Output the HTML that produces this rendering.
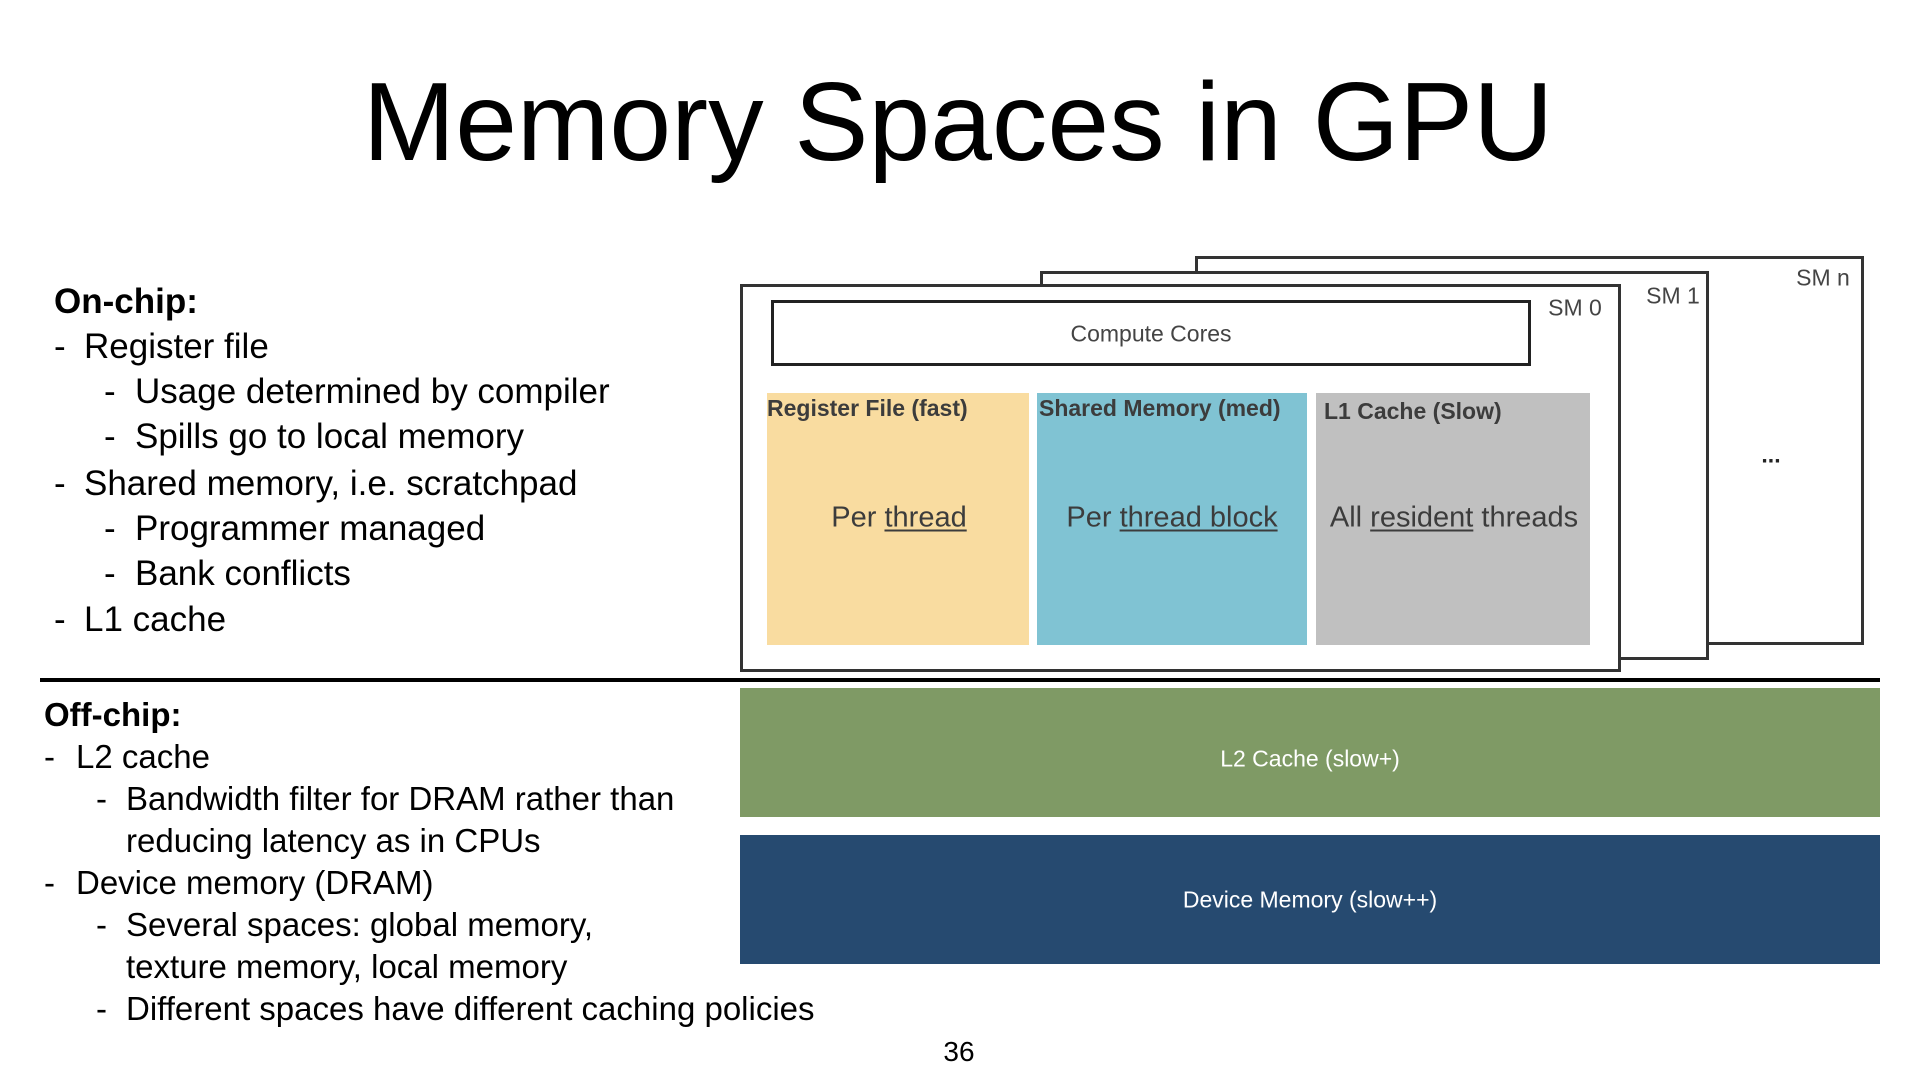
<!DOCTYPE html>
<html><head><meta charset="utf-8"><style>
html,body{margin:0;padding:0;background:#fff;}
body{width:1920px;height:1080px;position:relative;overflow:hidden;font-family:"Liberation Sans",Arial,sans-serif;}
.a{position:absolute;white-space:nowrap;}
.t{position:absolute;white-space:nowrap;transform:translateY(-50%);}
.box{position:absolute;box-sizing:border-box;}
.c{position:absolute;transform:translate(-50%,-50%);white-space:nowrap;}
u{text-decoration-thickness:2px;text-underline-offset:3px;}
</style></head><body>
<div class="c" style="left:958px;top:122px;font-size:111px;color:#000;">Memory Spaces in GPU</div>

<!-- on-chip text -->
<div style="font-size:35px;color:#000;">
<div class="t" style="left:54px;top:302px;font-weight:bold;">On-chip:</div>
<div class="t" style="left:54px;top:347px;">-</div><div class="t" style="left:84px;top:347px;">Register file</div>
<div class="t" style="left:104px;top:392px;">-</div><div class="t" style="left:135px;top:392px;">Usage determined by compiler</div>
<div class="t" style="left:104px;top:437px;">-</div><div class="t" style="left:135px;top:437px;">Spills go to local memory</div>
<div class="t" style="left:54px;top:484px;">-</div><div class="t" style="left:84px;top:484px;">Shared memory, i.e. scratchpad</div>
<div class="t" style="left:104px;top:529px;">-</div><div class="t" style="left:135px;top:529px;">Programmer managed</div>
<div class="t" style="left:104px;top:574px;">-</div><div class="t" style="left:135px;top:574px;">Bank conflicts</div>
<div class="t" style="left:54px;top:620px;">-</div><div class="t" style="left:84px;top:620px;">L1 cache</div>
</div>

<div class="box" style="left:40px;top:678px;width:1840px;height:4px;background:#000;"></div>

<!-- off-chip text -->
<div style="font-size:33px;color:#000;">
<div class="t" style="left:44px;top:715px;font-weight:bold;">Off-chip:</div>
<div class="t" style="left:44px;top:757px;">-</div><div class="t" style="left:76px;top:757px;">L2 cache</div>
<div class="t" style="left:96px;top:799px;">-</div><div class="t" style="left:126px;top:799px;">Bandwidth filter for DRAM rather than</div>
<div class="t" style="left:126px;top:841px;">reducing latency as in CPUs</div>
<div class="t" style="left:44px;top:883px;">-</div><div class="t" style="left:76px;top:883px;">Device memory (DRAM)</div>
<div class="t" style="left:96px;top:925px;">-</div><div class="t" style="left:126px;top:925px;">Several spaces: global memory,</div>
<div class="t" style="left:126px;top:967px;">texture memory, local memory</div>
<div class="t" style="left:96px;top:1009px;">-</div><div class="t" style="left:126px;top:1009px;">Different spaces have different caching policies</div>
</div>

<!-- SM boxes -->
<div class="box" style="left:1195px;top:256px;width:669px;height:389px;border:3px solid #333;background:#fff;"></div>
<div class="c" style="left:1823px;top:278px;font-size:23px;color:#444;">SM n</div>
<div class="c" style="left:1771px;top:455px;font-size:23px;color:#222;font-weight:bold;">...</div>
<div class="box" style="left:1040px;top:271px;width:669px;height:389px;border:3px solid #333;background:#fff;"></div>
<div class="c" style="left:1673px;top:296px;font-size:23px;color:#444;">SM 1</div>
<div class="box" style="left:740px;top:284px;width:881px;height:388px;border:3px solid #333;background:#fff;"></div>
<div class="c" style="left:1575px;top:308px;font-size:23px;color:#444;">SM 0</div>
<div class="box" style="left:771px;top:300px;width:760px;height:66px;border:3px solid #222;background:#fff;"></div>
<div class="c" style="left:1151px;top:334px;font-size:23px;color:#444;">Compute Cores</div>

<div class="box" style="left:767px;top:393px;width:262px;height:252px;background:#F9DCA0;"></div>
<div class="a" style="left:767px;top:395px;font-size:23px;font-weight:bold;color:#3c3c3c;">Register File (fast)</div>
<div class="c" style="left:899px;top:518px;font-size:29px;color:#3c3c3c;">Per <u>thread</u></div>

<div class="box" style="left:1037px;top:393px;width:270px;height:252px;background:#80C3D3;"></div>
<div class="a" style="left:1039px;top:395px;font-size:23px;font-weight:bold;color:#3c3c3c;">Shared Memory (med)</div>
<div class="c" style="left:1172px;top:518px;font-size:29px;color:#3c3c3c;">Per <u>thread block</u></div>

<div class="box" style="left:1316px;top:393px;width:274px;height:252px;background:#C0C0C0;"></div>
<div class="a" style="left:1324px;top:398px;font-size:23px;font-weight:bold;color:#3c3c3c;">L1 Cache (Slow)</div>
<div class="c" style="left:1454px;top:518px;font-size:29px;color:#3c3c3c;">All <u>resident</u> threads</div>

<div class="box" style="left:740px;top:688px;width:1140px;height:129px;background:#7F9A65;"></div>
<div class="c" style="left:1310px;top:759px;font-size:23px;color:#fff;">L2 Cache (slow+)</div>
<div class="box" style="left:740px;top:835px;width:1140px;height:129px;background:#264A70;"></div>
<div class="c" style="left:1310px;top:900px;font-size:23px;color:#fff;">Device Memory (slow++)</div>

<div class="c" style="left:959px;top:1052px;font-size:28px;color:#000;">36</div>
</body></html>
